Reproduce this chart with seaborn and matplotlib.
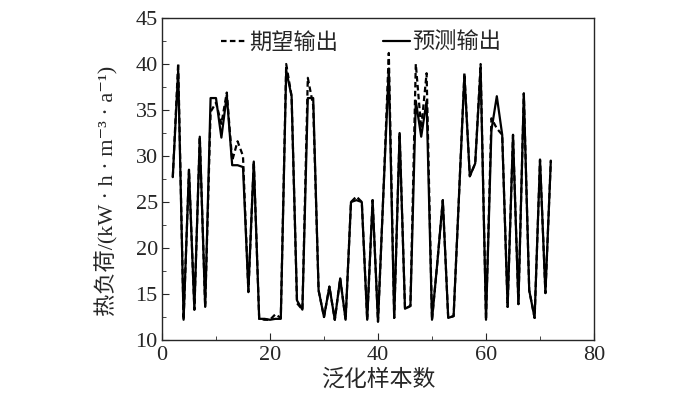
import numpy as np
import pandas as pd
import matplotlib.pyplot as plt
import matplotlib as mpl
import seaborn as sns
from matplotlib.ticker import MultipleLocator

# --- data ---
samples = list(range(2, 73))

expected = [27.7, 40.1, 12.2, 28.5, 13.3, 32.1, 13.6, 34.8, 35.8, 33.5,
            36.9, 29.5, 31.6, 30.0, 15.2, 29.4, 12.3, 12.2, 12.2, 12.8,
            12.4, 40.0, 36.5, 14.0, 13.3, 38.5, 35.5, 15.4, 12.5, 15.8,
            12.2, 16.7, 12.2, 25.0, 25.6, 25.0, 12.2, 25.2, 12.0, 26.0,
            41.2, 12.4, 32.5, 13.4, 13.7, 40.0, 33.0, 39.0, 12.2, 18.5,
            25.2, 12.4, 12.6, 25.7, 39.0, 27.8, 29.2, 40.0, 12.2, 34.1,
            33.0, 32.3, 13.6, 32.3, 13.9, 36.8, 15.4, 12.4, 29.6, 15.1,
            29.5]

predicted = [27.7, 39.3, 12.2, 28.5, 13.3, 32.1, 13.6, 36.3, 36.3, 32.0,
             36.6, 29.0, 29.0, 28.8, 15.4, 29.4, 12.3, 12.3, 12.2, 12.3,
             12.3, 39.3, 36.5, 14.3, 13.3, 36.3, 36.3, 15.4, 12.5, 15.8,
             12.2, 16.7, 12.2, 25.0, 25.2, 25.0, 12.2, 25.2, 12.0, 26.0,
             39.5, 12.4, 32.5, 13.4, 13.7, 36.0, 32.1, 36.0, 12.2, 18.5,
             25.2, 12.4, 12.6, 25.7, 38.8, 27.8, 29.2, 39.5, 12.2, 32.8,
             36.5, 32.3, 13.6, 32.3, 13.9, 36.8, 15.4, 12.4, 29.6, 15.1,
             29.5]

df = pd.DataFrame({"x": samples, "expected": expected, "predicted": predicted})

# --- style ---
sns.set_style("ticks")
mpl.rcParams.update({
    "font.family": ["Liberation Serif", "Noto Sans CJK SC", "DejaVu Serif"],
    "font.size": 16,
    "axes.linewidth": 1.0,
    "xtick.direction": "in",
    "ytick.direction": "in",
    "xtick.major.size": 5,
    "ytick.major.size": 5,
    "xtick.minor.size": 3,
    "ytick.minor.size": 3,
})

fig, ax = plt.subplots(figsize=(7, 3.96), dpi=100)
fig.subplots_adjust(left=0.2314, right=0.8486, top=0.9545, bottom=0.1414)

sns.lineplot(data=df, x="x", y="expected", ax=ax, color="black",
             linestyle=(0, (2.5, 1.5)), linewidth=1.6, label="期望输出")
sns.lineplot(data=df, x="x", y="predicted", ax=ax, color="black",
             linestyle="-", linewidth=1.6, label="预测输出")

ax.set_xlim(0, 80)
ax.set_ylim(10, 45)
ax.xaxis.set_major_locator(MultipleLocator(20))
ax.xaxis.set_minor_locator(MultipleLocator(10))
ax.yaxis.set_major_locator(MultipleLocator(5))
ax.yaxis.set_minor_locator(MultipleLocator(2.5))
ax.tick_params(axis="x", labelsize=16, pad=4)
ax.tick_params(axis="y", labelsize=16, pad=3)

ax.set_xlabel("泛化样本数", fontsize=16.5, labelpad=3)
ax.set_ylabel("热负荷/(kW · h · m⁻³ · a⁻¹)", fontsize=16)
ax.yaxis.set_label_coords(-0.10, 0.463)

ax.legend(loc="upper center", bbox_to_anchor=(0.46, 1.0), ncol=2,
          frameon=False, fontsize=16, handlelength=1.2, columnspacing=2.0,
          handletextpad=0.1, borderaxespad=0.25)

plt.savefig("out.png", dpi=100)
plt.close()
